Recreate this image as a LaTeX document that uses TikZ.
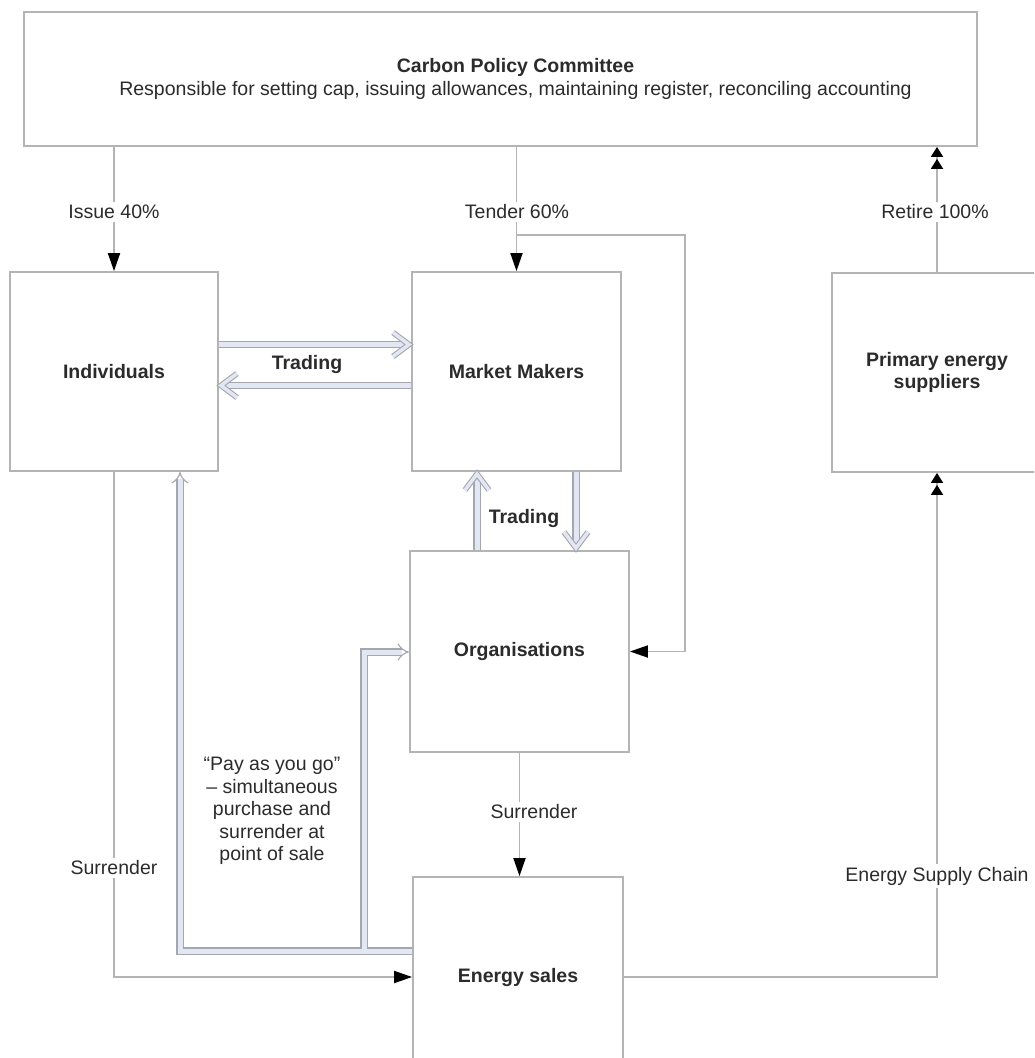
\documentclass[tikz,border=0pt]{standalone}
\usepackage{fontspec}
\setmainfont{Liberation Sans}
\usetikzlibrary{arrows.meta}
\definecolor{boxline}{HTML}{B4B4B4}
\definecolor{connline}{HTML}{B4B4B4}
\definecolor{txt}{HTML}{2B2B2B}
\definecolor{hollowfill}{HTML}{E3E7F3}
\definecolor{hollowline}{HTML}{A4A6B0}
\newcommand\fsz{\fontsize{19.5}{22.5}\selectfont}
\begin{document}
\begin{tikzpicture}[x=1pt,y=-1pt,
  box/.style={draw=boxline, line width=1.8pt, fill=white, inner sep=0pt,
    align=center, font=\fsz\bfseries, text=txt},
  lbl/.style={fill=white, inner sep=3pt, text=txt, align=center, font=\fsz},
  conn/.style={draw=connline, line width=1.8pt},
  tip/.style={-{Triangle[length=18pt,width=12pt,color=black]}},
  dtip/.style={-{Triangle[length=10pt,width=12pt,color=black,sep=2pt]Triangle[length=10pt,width=12pt,color=black]}},
  hol/.style={draw=hollowline, double=hollowfill, line width=1.1pt,
    double distance=5pt},
  holc/.style={draw=hollowline, double=hollowfill, line width=1.1pt,
    double distance=3.5pt, line join=miter, line cap=butt},
  chev/.pic={\draw[holc] (-16,-12) -- (0,0) -- (-16,12);}
]
\useasboundingbox (0,0) rectangle (1034,1058);
\clip (0,0) rectangle (1034,1058);

% boxes
\node[box, font=\fsz, minimum width=953pt, minimum height=134pt] (cpc) at (500.5,79)
  {\hspace*{30pt}{\bfseries Carbon Policy Committee}\\\hspace*{30pt}Responsible for setting cap, issuing allowances, maintaining register, reconciling accounting};
\node[box, minimum width=208pt, minimum height=199pt] (ind) at (114,371.5) {Individuals};
\node[box, minimum width=209pt, minimum height=199pt] (mm) at (516.5,371.5) {Market Makers};
\node[box, minimum width=210pt, minimum height=199pt] (pes) at (937,372.5) {Primary energy\\suppliers};
\node[box, minimum width=219pt, minimum height=201pt] (org) at (519.5,651.5) {Organisations};
\node[box, minimum width=210pt, minimum height=200pt] (es) at (518,977) {Energy sales};

% helper coordinates
\coordinate (tb) at (516.5,235);
\coordinate (tr) at (685,235);
\coordinate (h1) at (0,344.5);
\coordinate (h2) at (0,385.5);
\coordinate (u) at (477,0);
\coordinate (d) at (576,0);
\coordinate (pg) at (0,951);
\coordinate (px) at (180,0);
\coordinate (by) at (0,652);
\coordinate (j) at (364,951);
\coordinate (t1) at (409,344.5);
\coordinate (t2) at (221,385.5);
\coordinate (t3) at (477,474);
\coordinate (t4) at (576,548);

% plain connectors
\draw[conn,tip] (cpc.south -| ind.north) -- (ind.north);
\draw[conn,tip] (cpc.south -| mm.north) -- (mm.north);
\draw[conn,tip] (tb) -- (tr) |- (org.east);
\draw[conn,dtip] (pes.north) -- (pes.north |- cpc.south);
\draw[conn,dtip] (es.east) -| (pes.south);
\draw[conn,tip] (ind.south) |- (es.west);
\draw[conn,tip] (org.south) -- (org.south |- es.north);

% labels
\node[lbl] (lissue) at (114,212) {Issue 40\%};
\node[lbl] (ltender) at (517,212) {Tender 60\%};
\node[lbl] (lretire) at (935,212) {Retire 100\%};
\node[lbl] (lsurr1) at (114,868) {Surrender};
\node[lbl] (lsurr2) at (534,812) {Surrender};
\node[lbl] (lesc) at (937,876) {Energy Supply Chain};

% hollow trading arrows
\draw[hol] (ind.east |- h1) -- (t1);
\pic at (t1) {chev};
\draw[hol] (mm.west |- h2) -- (t2);
\pic[rotate=180] at (t2) {chev};
\draw[hol] (org.north -| u) -- (t3);
\pic[rotate=90] at (t3) {chev};
\draw[hol] (mm.south -| d) -- (t4);
\pic[rotate=-90] at (t4) {chev};
\node[lbl, fill=none, font=\fsz\bfseries] (ltr1) at (307,364) {Trading};
\node[lbl, fill=none, font=\fsz\bfseries] (ltr2) at (524,518) {Trading};

% pay as you go
\draw[hol, -{Implies}] (es.west |- pg) -| (ind.south -| px);
\draw[hol, -{Implies}] (j) |- (org.west |- by);
\draw[draw=hollowfill, line width=5pt] ([xshift=-3.8pt]j) -- ([xshift=3.8pt]j);
\node[lbl, fill=none] (lpay) at (272,811) {“Pay as you go”\\– simultaneous\\purchase and\\surrender at\\point of sale};
\end{tikzpicture}
\end{document}
